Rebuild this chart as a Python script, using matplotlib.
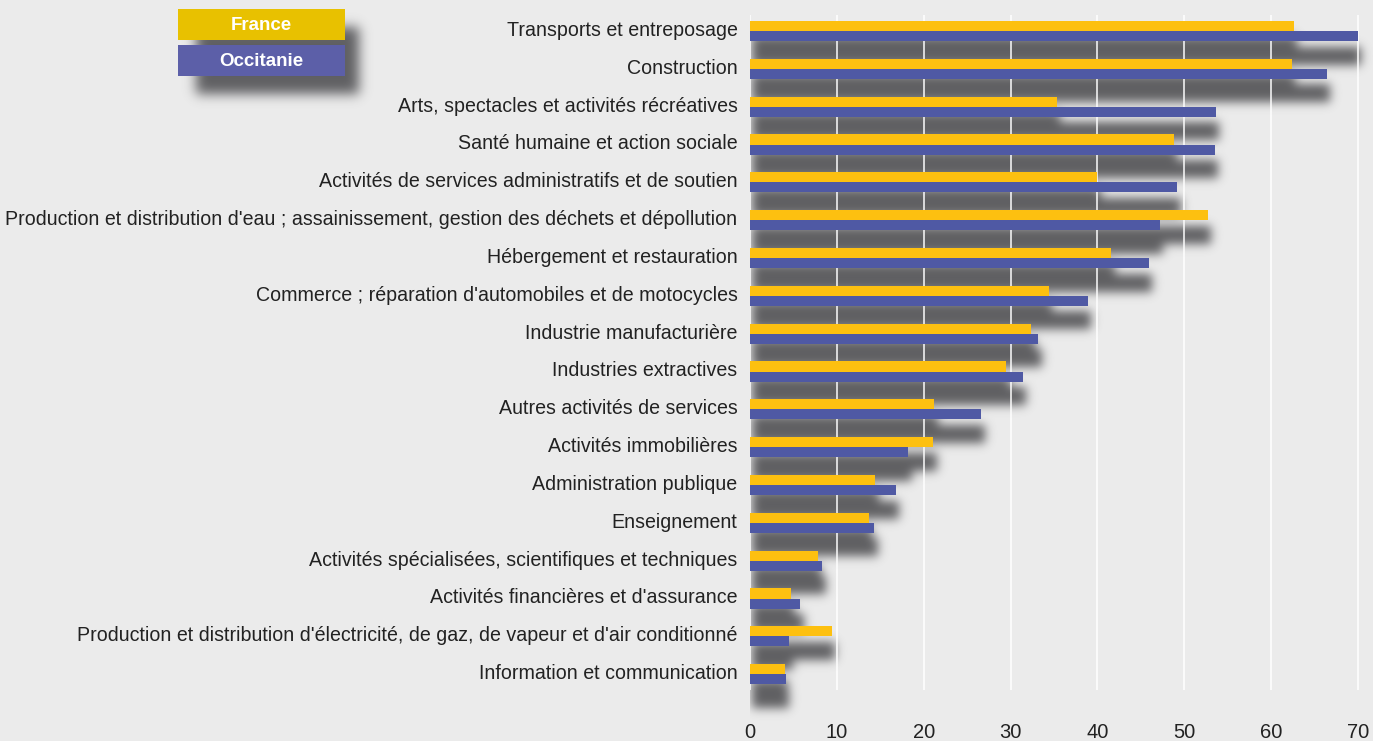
import matplotlib
matplotlib.use("Agg")
import matplotlib.pyplot as plt
from matplotlib.patches import Rectangle
import numpy as np

plt.rcParams['font.family'] = ['Liberation Sans', 'DejaVu Sans']

categories = [
    "Transports et entreposage",
    "Construction",
    "Arts, spectacles et activités récréatives",
    "Santé humaine et action sociale",
    "Activités de services administratifs et de soutien",
    "Production et distribution d'eau ; assainissement, gestion des déchets et dépollution",
    "Hébergement et restauration",
    "Commerce ; réparation d'automobiles et de motocycles",
    "Industrie manufacturière",
    "Industries extractives",
    "Autres activités de services",
    "Activités immobilières",
    "Administration publique",
    "Enseignement",
    "Activités spécialisées, scientifiques et techniques",
    "Activités financières et d'assurance",
    "Production et distribution d'électricité, de gaz, de vapeur et d'air conditionné",
    "Information et communication",
]
france = [62.6, 62.4, 35.3, 48.8, 40.0, 52.7, 41.6, 34.4, 32.4, 29.5,
          21.2, 21.1, 14.4, 13.7, 7.8, 4.7, 9.4, 4.0]
occitanie = [70.0, 66.4, 53.6, 53.5, 49.2, 47.2, 45.9, 38.9, 33.2, 31.4,
             26.6, 18.2, 16.8, 14.3, 8.3, 5.8, 4.5, 4.1]
series_names = ["France", "Occitanie"]
xticks = [0, 10, 20, 30, 40, 50, 60, 70]

W, H = 1373, 741
bg = '#ebebeb'
c_fr = '#fdc010'
c_oc = '#4f59a4'
c_fr_leg = '#e8c100'
c_oc_leg = '#5c5fa8'

fig = plt.figure(figsize=(W / 100, H / 100), dpi=100, facecolor=bg)
ax = fig.add_axes([750 / W, 29 / H, (W - 750) / W, 712 / H])
ax.set_facecolor('none')

y = np.arange(len(categories))
h = 0.265
ax.set_xlim(0, 71.73)
ax.set_ylim(18.0, -0.82)

# white vertical gridlines, above the shadow, below the bars
ax.vlines(xticks, -0.42, 17.42, colors='white', lw=1.2, alpha=0.9, zorder=1)
ax.barh(y - h / 2, france, height=h, color=c_fr, zorder=2)
ax.barh(y + h / 2, occitanie, height=h, color=c_oc, zorder=2)

ax.set_xticks(xticks)
# labels sit a little above the middle of each pair of bars
ax.set_yticks(y - 0.07)
ax.set_yticklabels(categories, fontsize=14.1, color='#222222')
ax.tick_params(axis='both', length=0)
ax.tick_params(axis='y', pad=9)
ax.tick_params(axis='x', pad=8, labelsize=14.5, labelcolor='#222222')
for s in ax.spines.values():
    s.set_visible(False)


def blur(a, sigma):
    r = int(3 * sigma)
    k = np.exp(-0.5 * (np.arange(-r, r + 1) / sigma) ** 2)
    k /= k.sum()
    a = np.apply_along_axis(lambda m: np.convolve(m, k, mode='same'), 0, a)
    a = np.apply_along_axis(lambda m: np.convolve(m, k, mode='same'), 1, a)
    return a


# drop shadow under each bar, built in pixel space and blurred
dx, dy, grow = 4, 19, 4
mask = np.zeros((H, W))
for vals, off in ((france, -h / 2), (occitanie, h / 2)):
    for yi, v in zip(y, vals):
        x0, y0 = ax.transData.transform((0, yi + off + h / 2))
        x1, y1 = ax.transData.transform((v, yi + off - h / 2))
        mask[int(y0 - dy - grow):int(y1 - dy + grow), int(x0 + dx - 2):int(x1 + dx)] = 1
mask = blur(mask, 5)
x_zero = int(round(ax.transData.transform((0, 0))[0]))
mask[:, :x_zero] = 0

# legend boxes with their own shadow
leg_x, leg_w, leg_h = 178, 167, 31
leg_tops = [9, 45]
leg_mask = np.zeros((H, W))
leg_mask[H - (leg_tops[1] + leg_h) - 18:H - leg_tops[0] - 18, leg_x + 18:leg_x + leg_w + 14] = 1
leg_mask = blur(leg_mask, 6)
mask = np.clip(mask + leg_mask, 0, 1)

img = np.zeros((H, W, 4))
img[..., :3] = (0.30, 0.30, 0.31)
img[..., 3] = mask * 0.88
fig.figimage(img, xo=0, yo=0, origin='lower', zorder=-1)

for name, top, col in zip(series_names, leg_tops, (c_fr_leg, c_oc_leg)):
    fig.patches.append(Rectangle((leg_x / W, 1 - (top + leg_h) / H), leg_w / W, leg_h / H,
                                 transform=fig.transFigure, facecolor=col,
                                 edgecolor='none', zorder=3))
    fig.text((leg_x + leg_w / 2) / W, 1 - (top + leg_h / 2 + 1) / H, name, color='white',
             fontsize=13.5, fontweight='bold', ha='center', va='center', zorder=4)

fig.savefig('out.png', dpi=100, facecolor=bg)
